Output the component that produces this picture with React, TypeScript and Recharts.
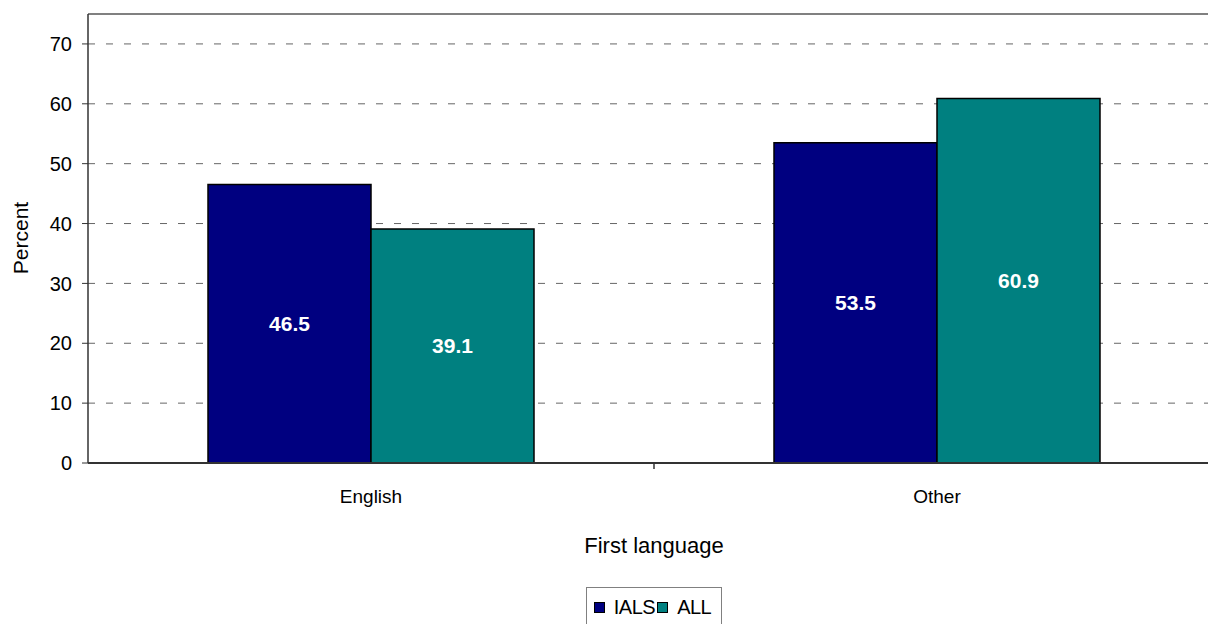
import { Bar, BarChart, CartesianGrid, LabelList, Legend, ReferenceLine, XAxis, YAxis } from 'recharts';

const categories = ['English', 'Other'];
const ialsValues = [46.5, 53.5];
const allValues = [39.1, 60.9];
const yTicks = [0, 10, 20, 30, 40, 50, 60, 70];

const chartData = categories.map((name, i) => ({
  name,
  IALS: ialsValues[i],
  ALL: allValues[i],
}));

const FONT = '"Liberation Sans", Arial, sans-serif';
const NAVY = '#000080';
const TEAL = '#008080';

// category label plus the small Excel-style tick between categories
const XTick = (props: any) => {
  const { x, y, payload } = props;
  const half = payload && payload.offset ? payload.offset : 0;
  return (
    <g>
      {half > 0 && <line x1={x + half} y1={y} x2={x + half} y2={y + 6} stroke="#333" strokeWidth={1.5} />}
      <text x={x} y={y + 40} textAnchor="middle" fontSize={19} fontFamily={FONT} fill="#000">
        {payload.value}
      </text>
    </g>
  );
};

const LegendBox = () => (
  <div style={{ display: 'flex', justifyContent: 'center', paddingLeft: 88, height: 61, boxSizing: 'border-box', paddingTop: 24 }}>
    <div
      style={{
        border: '1.5px solid #808080',
        height: 40,
        display: 'flex',
        alignItems: 'flex-start',
        paddingTop: 8,
        paddingLeft: 7,
        paddingRight: 8,
        boxSizing: 'border-box',
        fontFamily: FONT,
        fontSize: 20,
        color: '#000',
      }}
    >
      {[
        { label: 'IALS', color: NAVY },
        { label: 'ALL', color: TEAL },
      ].map((item) => (
        <div key={item.label} style={{ display: 'flex', alignItems: 'center', marginRight: 2 }}>
          <span style={{ width: 9, height: 9, background: item.color, border: '1px solid #000', marginRight: 9, display: 'inline-block' }} />
          <span style={{ letterSpacing: -0.5 }}>{item.label}</span>
        </div>
      ))}
    </div>
  </div>
);

export default function App() {
  return (
    <div style={{ position: 'fixed', top: 0, left: 0, width: 1208, height: 624, overflow: 'hidden', background: '#fff' }}>
      <BarChart
        width={1220}
        height={624}
        data={chartData}
        margin={{ top: 14, right: 0, left: 0, bottom: 0 }}
        barCategoryGap={120}
        barGap={0}
      >
        <CartesianGrid vertical={false} stroke="#666" strokeDasharray="7 11" />
        <XAxis
          dataKey="name"
          height={100}
          tickLine={false}
          tickSize={0}
          tickMargin={0}
          tick={<XTick />}
          axisLine={{ stroke: '#333', strokeWidth: 2 }}
          label={() => (
            <text x={654} y={553} textAnchor="middle" fontSize={22} fontFamily={FONT} fill="#000">
              First language
            </text>
          )}
        />
        <YAxis
          width={88}
          domain={[0, 75]}
          ticks={yTicks}
          tickSize={6}
          tickMargin={10}
          axisLine={{ stroke: '#333', strokeWidth: 1.5 }}
          tickLine={{ stroke: '#333' }}
          tick={{ fontSize: 20, fontFamily: FONT, fill: '#000' }}
          label={() => (
            <text x={22} y={238} transform="rotate(-90 22 238)" textAnchor="middle" dominantBaseline="middle" fontSize={21} fontFamily={FONT} fill="#000">
              Percent
            </text>
          )}
        />
        <ReferenceLine y={75} stroke="#808080" strokeWidth={2} />
        <Legend verticalAlign="bottom" content={<LegendBox />} wrapperStyle={{ left: 0, width: 1220 }} />
        <Bar dataKey="IALS" fill={NAVY} stroke="#000" strokeWidth={1.5} isAnimationActive={false}>
          <LabelList dataKey="IALS" position="center" fill="#fff" fontSize={21} fontWeight="bold" fontFamily={FONT} />
        </Bar>
        <Bar dataKey="ALL" fill={TEAL} stroke="#000" strokeWidth={1.5} isAnimationActive={false}>
          <LabelList dataKey="ALL" position="center" fill="#fff" fontSize={21} fontWeight="bold" fontFamily={FONT} />
        </Bar>
      </BarChart>
    </div>
  );
}
